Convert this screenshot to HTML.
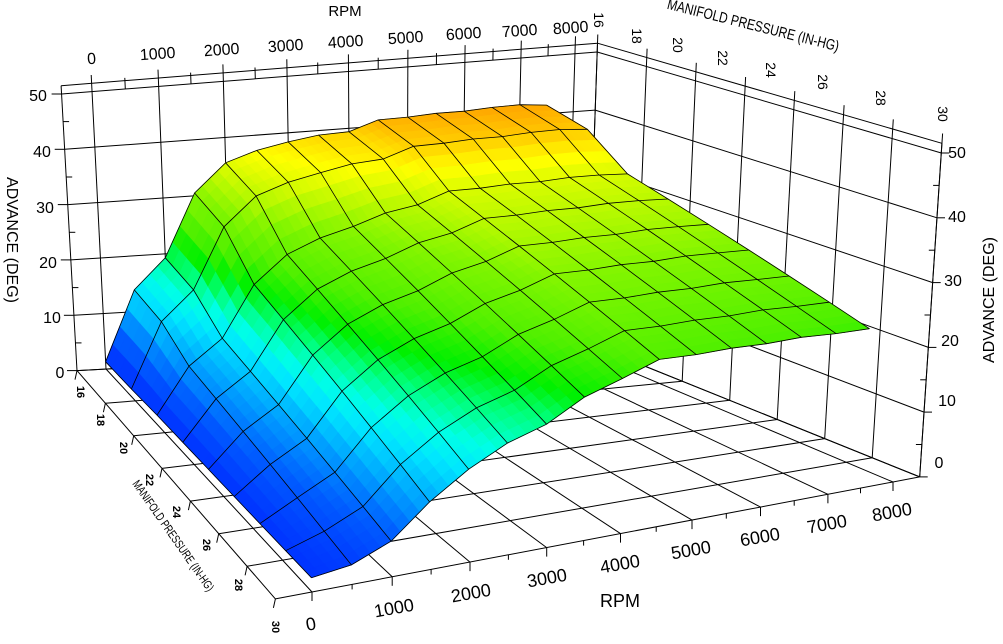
<!DOCTYPE html>
<html><head><meta charset="utf-8">
<style>
html,body{margin:0;padding:0;background:#fff;}
#wrap{position:relative;width:1003px;height:644px;overflow:hidden;}
svg{position:absolute;left:0;top:0;}
text{font-family:"Liberation Sans",sans-serif;fill:#000;}
</style></head><body>
<div id="wrap">
<svg id="plot" width="1003" height="644" viewBox="0 0 1003 644"></svg>
<svg id="labels" width="1003" height="644" viewBox="0 0 1003 644">
<text x="345" y="16" font-size="15" text-anchor="middle">RPM</text>
<g font-size="16" text-anchor="middle">
<text x="92" y="64" transform="rotate(-4 92 64)">0</text>
<text x="158" y="59" transform="rotate(-4 158 59)">1000</text>
<text x="222" y="55" transform="rotate(-4 222 55)">2000</text>
<text x="286" y="51" transform="rotate(-4 286 51)">3000</text>
<text x="346" y="47" transform="rotate(-4 346 47)">4000</text>
<text x="406" y="43" transform="rotate(-4 406 43)">5000</text>
<text x="464" y="39" transform="rotate(-4 464 39)">6000</text>
<text x="520" y="36" transform="rotate(-4 520 36)">7000</text>
<text x="571" y="33" transform="rotate(-4 571 33)">8000</text>
</g>
<g font-size="16" text-anchor="middle">
<text x="38" y="101">50</text>
<text x="42" y="157">40</text>
<text x="45" y="213">30</text>
<text x="48" y="268">20</text>
<text x="52" y="323">10</text>
<text x="60" y="378">0</text>
</g>
<text x="0" y="0" font-size="16" text-anchor="middle" transform="translate(7,240) rotate(90)">ADVANCE  (DEG)</text>
<g font-size="16" text-anchor="middle">
<text x="957" y="158">50</text>
<text x="957" y="222">40</text>
<text x="953" y="286">30</text>
<text x="950" y="346">20</text>
<text x="947" y="406">10</text>
<text x="939" y="468">0</text>
</g>
<text x="0" y="0" font-size="16" text-anchor="middle" transform="translate(994,300) rotate(-90)">ADVANCE  (DEG)</text>
<text x="0" y="0" font-size="15" text-anchor="middle" transform="translate(752,30) rotate(14) scale(0.8,1)">MANIFOLD PRESSURE (IN-HG)</text>
<g font-size="14" text-anchor="middle">
<text transform="translate(594,20) rotate(90)">16</text>
<text transform="translate(632,36) rotate(90)">18</text>
<text transform="translate(673,45) rotate(90)">20</text>
<text transform="translate(718,58) rotate(90)">22</text>
<text transform="translate(766,70) rotate(90)">24</text>
<text transform="translate(818,82) rotate(90)">26</text>
<text transform="translate(876,98) rotate(90)">28</text>
<text transform="translate(938,114) rotate(90)">30</text>
</g>
<g font-size="11" text-anchor="middle" font-weight="bold">
<text transform="translate(77,392) rotate(90)">16</text>
<text transform="translate(97,420) rotate(90)">18</text>
<text transform="translate(120,448) rotate(90)">20</text>
<text transform="translate(146,480) rotate(90)">22</text>
<text transform="translate(173,512) rotate(90)">24</text>
<text transform="translate(203,545) rotate(90)">26</text>
<text transform="translate(235,585) rotate(90)">28</text>
<text transform="translate(272,627) rotate(90)">30</text>
</g>
<text x="0" y="0" font-size="12" text-anchor="middle" transform="translate(170,538) rotate(55) scale(0.75,1)">MANIFOLD PRESSURE  (IN-HG)</text>
<g font-size="18" text-anchor="middle">
<text x="312" y="630" transform="rotate(-10 312 630)">0</text>
<text x="395" y="614" transform="rotate(-10 395 614)">1000</text>
<text x="472" y="599" transform="rotate(-10 472 599)">2000</text>
<text x="548" y="584" transform="rotate(-10 548 584)">3000</text>
<text x="621" y="570" transform="rotate(-10 621 570)">4000</text>
<text x="692" y="556" transform="rotate(-10 692 556)">5000</text>
<text x="761" y="543" transform="rotate(-10 761 543)">6000</text>
<text x="828" y="530" transform="rotate(-10 828 530)">7000</text>
<text x="893" y="518" transform="rotate(-10 893 518)">8000</text>
</g>
<text x="620" y="607" font-size="18" text-anchor="middle">RPM</text>
</svg>
</div>
<script>
(function(){
var gt=[0,.138,.272,.404,.531,.654,.772,.888,1];
function G(r){var i=Math.floor(r/1000);if(i<0)i=0;if(i>7)i=7;return gt[i]+(gt[i+1]-gt[i])*(r/1000-i);}
function P(g,v,a){
 var bb=[106+460*g,369-25*g],tb=[92+483*g,91.6-37.9*g],fb=[312+581*g,592-110*g],ft=[298+615*g,267-109*g];
 var b=[bb[0]+(fb[0]-bb[0])*v,bb[1]+(fb[1]-bb[1])*v],t=[tb[0]+(ft[0]-tb[0])*v,tb[1]+(ft[1]-tb[1])*v];
 var w=a/50;return [b[0]+(t[0]-b[0])*w,b[1]+(t[1]-b[1])*w];}
var gL=-0.063,gR=1.046;
var out=[];
function f(p){return p[0].toFixed(1)+','+p[1].toFixed(1);}
function L(p,q,sw){out.push('<line x1="'+p[0].toFixed(1)+'" y1="'+p[1].toFixed(1)+'" x2="'+q[0].toFixed(1)+'" y2="'+q[1].toFixed(1)+'" stroke="#000" stroke-width="'+(sw||1)+'"/>');}
var m,v,a,r,g;
for(m=16;m<=30;m+=2){v=(m-16)/14;L(P(gL,v,0),P(gR,v,0));var p=P(gL,v,0);L(p,[p[0]-2,p[1]+9]);}
for(r=0;r<=8000;r+=1000){g=G(r);L(P(g,0,0),P(g,1,0));var q=P(g,1,0);L(q,[q[0],q[1]+9]);}
for(r=500;r<8000;r+=1000){var q2=P(G(r),1,0);L(q2,[q2[0],q2[1]+5]);}
L(P(gL,0,0),P(gL,1,0));L(P(gR,0,0),P(gR,1,0));
for(a=0;a<=50;a+=10){L(P(gL,0,a),P(gR,0,a));var s=P(gL,0,a);L(s,[s[0]-10,s[1]]);}
for(a=5;a<50;a+=10){var s2=P(gL,0,a);L(s2,[s2[0]+6,s2[1]]);}
L(P(gL,0,51.5),P(gR,0,51.5));
for(r=0;r<=8000;r+=1000){g=G(r);L(P(g,0,0),P(g,0,53));}
for(r=500;r<8000;r+=1000){g=G(r);L(P(g,0,50),P(g,0,52));}
L(P(gL,0,0),P(gL,0,51.5));L(P(gR,0,0),P(gR,0,51.5));
for(a=0;a<=50;a+=10){L(P(gR,0,a),P(gR,1,a));var t=P(gR,1,a);L(t,[t[0]+8,t[1]]);}
for(a=5;a<50;a+=10){var t2=P(gR,1,a);L(t2,[t2[0]-6,t2[1]]);}
L(P(gR,0,51.5),P(gR,1,51.5));
for(m=16;m<=30;m+=2){v=(m-16)/14;L(P(gR,v,0),P(gR,v,53));}
L(P(gR,1,0),P(gR,1,51.5));
var back=[1.3,13.9,19.3,30.5,35.5,37.3,38.4,39.2,39.4,41.1,41.2,41.5,41.5,41.8,41.9,41.5];
var front=[2.2,3.0,5.5,10.4,14.3,17.2,19,22.1,23.9,25.8,25.5,25.5,25.2,25.2,24.8,24.6];
var h=[1,.9,.6,.5,.4,.3,.2,.1,0];
var NC=16,NR=9;
function val(i,k){return front[i]+(back[i]-front[i])*h[k];}
var stops=[[0,[0,30,255]],[6,[0,90,255]],[10,[0,160,255]],[14,[0,230,255]],[16.5,[0,255,230]],[19.5,[0,255,120]],[22,[0,240,0]],[25.5,[80,240,0]],[30,[130,245,0]],[34,[200,250,0]],[37,[255,255,0]],[39.5,[255,210,0]],[41.5,[255,170,0]],[60,[255,150,0]]];
function col(x){for(var j=0;j<stops.length-1;j++){if(x<=stops[j+1][0]){var a0=stops[j],a1=stops[j+1],t=(x-a0[0])/(a1[0]-a0[0]);if(t<0)t=0;var c=[0,1,2].map(function(n){return Math.round(a0[1][n]+(a1[1][n]-a0[1][n])*t);});return 'rgb('+c.join(',')+')';}}return 'rgb(255,150,0)';}
var S=4;
for(var k=0;k<NR-1;k++){for(var i=0;i<NC-1;i++){
 var z00=val(i,k),z10=val(i+1,k),z01=val(i,k+1),z11=val(i+1,k+1);
 for(var sk=0;sk<S;sk++){for(var si=0;si<S;si++){
  var pts=[[si,sk],[si+1,sk],[si+1,sk+1],[si,sk+1]].map(function(c){
   var fu=c[0]/S,fv=c[1]/S;var z=z00*(1-fu)*(1-fv)+z10*fu*(1-fv)+z01*(1-fu)*fv+z11*fu*fv;
   var rr=(i+fu)*500,vv=(k+fv)/8;return P(G(rr),vv,z);});
  var fu=(si+.5)/S,fv=(sk+.5)/S;var zc=z00*(1-fu)*(1-fv)+z10*fu*(1-fv)+z01*(1-fu)*fv+z11*fu*fv;
  var c=col(zc);
  out.push('<polygon points="'+pts.map(f).join(' ')+'" fill="'+c+'" stroke="'+c+'" stroke-width="0.7"/>');
 }}
}}
for(var k2=0;k2<NR;k2++){var pl=[];for(var i2=0;i2<NC;i2++)pl.push(f(P(G(i2*500),k2/8,val(i2,k2))));out.push('<polyline points="'+pl.join(' ')+'" fill="none" stroke="#000" stroke-width="0.8"/>');}
for(var i3=0;i3<NC;i3++){var pl2=[];for(var k3=0;k3<NR;k3++)pl2.push(f(P(G(i3*500),k3/8,val(i3,k3))));out.push('<polyline points="'+pl2.join(' ')+'" fill="none" stroke="#000" stroke-width="0.8"/>');}
document.getElementById('plot').innerHTML=out.join('');
})();
</script>
</body></html>
